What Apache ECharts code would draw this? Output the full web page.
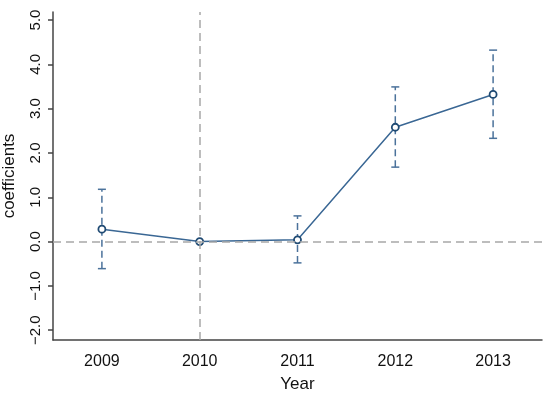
<!DOCTYPE html>
<html>
<head>
<meta charset="utf-8">
<script src="https://cdn.jsdelivr.net/npm/echarts@6/dist/echarts.min.js"></script>
<style>html,body{margin:0;padding:0;background:#fff}#c{width:550px;height:395px}</style>
</head>
<body>
<div id="c"></div>
<script>
var years = ['2009', '2010', '2011', '2012', '2013'];
var coef = [0.28, 0, 0.04, 2.58, 3.32];
var ciLow = [-0.61, null, -0.48, 1.68, 2.33];
var ciHigh = [1.18, null, 0.58, 3.49, 4.32];
var yTicks = [-2, -1, 0, 1, 2, 3, 4, 5];

var errData = [];
for (var i = 0; i < years.length; i++) {
  if (ciLow[i] !== null) errData.push([years[i], ciLow[i], ciHigh[i]]);
}

var chart = echarts.init(document.getElementById('c'), null, {renderer: 'canvas'});
var font = 'Liberation Sans, Arial, sans-serif';
chart.setOption({
  animation: false,
  grid: {left: 53, right: 8, top: 12, bottom: 55, containLabel: false, outerBoundsMode: 'none'},
  xAxis: {
    type: 'category',
    data: years,
    boundaryGap: true,
    name: 'Year',
    nameLocation: 'middle',
    nameGap: 36,
    nameTextStyle: {fontFamily: font, fontSize: 17, color: '#111'},
    axisLine: {onZero: false, lineStyle: {color: '#444', width: 1.5}},
    axisTick: {alignWithLabel: true, length: 5, lineStyle: {color: '#444', width: 1.5}},
    axisLabel: {fontFamily: font, fontSize: 16, color: '#111', margin: 14},
    splitLine: {show: false}
  },
  yAxis: {
    type: 'value',
    min: -2.22,
    max: 5.18,
    name: 'coefficients',
    nameLocation: 'middle',
    nameGap: 35,
    nameRotate: 90,
    nameTextStyle: {fontFamily: font, fontSize: 17, color: '#111'},
    axisLine: {show: true, onZero: false, lineStyle: {color: '#444', width: 1.5}},
    axisTick: {show: true, length: 5, customValues: yTicks, lineStyle: {color: '#444', width: 1.5}},
    axisLabel: {
      fontFamily: font, fontSize: 15, color: '#111', rotate: 90, margin: 10,
      customValues: yTicks,
      formatter: function (v) { return (v < 0 ? '\u2212' : '') + Math.abs(v).toFixed(1); }
    },
    splitLine: {show: false}
  },
  series: [
    {
      type: 'custom',
      z: 2,
      data: errData,
      renderItem: function (params, api) {
        var x = api.value(0);
        var lo = api.coord([x, api.value(1)]);
        var hi = api.coord([x, api.value(2)]);
        var c = '#4b729b';
        var w = 4;
        return {
          type: 'group',
          children: [
            {type: 'line', shape: {x1: lo[0], y1: lo[1], x2: hi[0], y2: hi[1]},
             style: {stroke: c, lineWidth: 1.5, lineDash: [7, 4]}},
            {type: 'line', shape: {x1: lo[0] - w, y1: lo[1], x2: lo[0] + w, y2: lo[1]},
             style: {stroke: c, lineWidth: 1.5}},
            {type: 'line', shape: {x1: hi[0] - w, y1: hi[1], x2: hi[0] + w, y2: hi[1]},
             style: {stroke: c, lineWidth: 1.5}}
          ]
        };
      }
    },
    {
      type: 'line',
      z: 3,
      data: coef,
      symbol: 'circle',
      symbolSize: 7,
      lineStyle: {color: '#3a6794', width: 1.5},
      itemStyle: {color: '#ffffff', borderColor: '#1f4a73', borderWidth: 1.8},
      markLine: {
        silent: true,
        symbol: 'none',
        label: {show: false},
        lineStyle: {color: '#a8a8a8', width: 1.5, type: [8, 5]},
        data: [{yAxis: 0}, {xAxis: '2010'}]
      }
    }
  ]
});
</script>
</body>
</html>
